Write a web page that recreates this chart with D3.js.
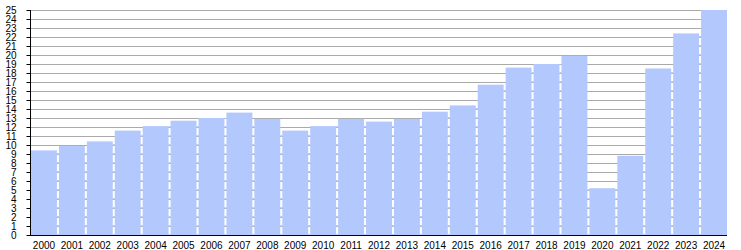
<!DOCTYPE html>
<html>
<head>
<meta charset="utf-8">
<script src="https://cdn.jsdelivr.net/npm/d3@7"></script>
<style>
  html, body { margin: 0; padding: 0; background: #fff; }
  svg { display: block; }
  text { font-family: "Liberation Sans", Arial, sans-serif; font-size: 10px; fill: #000; }
</style>
</head>
<body>
<svg id="chart" width="741" height="250"></svg>
<script>
const years = ["2000","2001","2002","2003","2004","2005","2006","2007","2008","2009","2010","2011","2012","2013","2014","2015","2016","2017","2018","2019","2020","2021","2022","2023","2024"];
const values = [9.4, 9.9, 10.4, 11.6, 12.1, 12.7, 13.0, 13.6, 12.9, 11.6, 12.1, 12.9, 12.6, 12.9, 13.7, 14.4, 16.7, 18.6, 19.0, 19.9, 5.2, 8.8, 18.5, 22.4, 25.0];
const yTicks = d3.range(0, 26);

const svg = d3.select("#chart");
const x = d3.scaleBand().domain(years).range([31, 729]).paddingInner(0).paddingOuter(0);
const y = d3.scaleLinear().domain([0, 25]).range([235, 10]);
const barColor = "#b3c8fc";

// gridlines
svg.append("g").selectAll("line").data(yTicks.filter(d => d > 0)).join("line")
  .attr("x1", 30).attr("x2", 727)
  .attr("y1", d => Math.round(y(d)) + 0.5).attr("y2", d => Math.round(y(d)) + 0.5)
  .attr("stroke", "#aaaaaa").attr("stroke-width", 1);

// bars
svg.append("g").selectAll("rect").data(values).join("rect")
  .attr("x", (d, i) => x(years[i]))
  .attr("width", x.bandwidth() - 2)
  .attr("y", d => y(d))
  .attr("height", d => y(0) - y(d))
  .attr("fill", barColor);

// dashed gap fills between adjacent bars
const gaps = values.slice(0, -1).map((v, i) => ({ i, h: Math.min(v, values[i + 1]) }));
svg.append("g").selectAll("line").data(gaps).join("line")
  .attr("x1", d => x(years[d.i]) + x.bandwidth() - 1)
  .attr("x2", d => x(years[d.i]) + x.bandwidth() - 1)
  .attr("y1", y(0))
  .attr("y2", d => y(d.h))
  .attr("stroke", barColor).attr("stroke-width", 2)
  .attr("stroke-dasharray", "1.5,7.5")
  .attr("stroke-dashoffset", 0.5);

// y axis
const yAxis = d3.axisLeft(y).tickValues(yTicks).tickSize(4).tickPadding(10).tickFormat(d3.format("d"));
const gy = svg.append("g").attr("transform", "translate(30.5,0)").call(yAxis);
gy.select(".domain").attr("stroke", "#000").attr("d", "M0," + y(25) + "V" + (y(0) + 0.5));
gy.selectAll(".tick line").attr("stroke", "#000");
gy.selectAll("text").attr("font-size", 10).attr("font-family", "'Liberation Sans', Arial, sans-serif").attr("fill", "#000");

// x axis
const xAxis = d3.axisBottom(x).tickSize(0).tickPadding(6);
const gx = svg.append("g").attr("transform", "translate(0,235.5)").call(xAxis);
gx.select(".domain").attr("stroke", "#000").attr("d", "M30,0H727");
gx.selectAll(".tick").attr("transform", d => "translate(" + (x(d) + (x.bandwidth() - 2) / 2) + ",0)");
gx.selectAll("text").attr("font-size", 10).attr("font-family", "'Liberation Sans', Arial, sans-serif").attr("fill", "#000");
</script>
</body>
</html>
